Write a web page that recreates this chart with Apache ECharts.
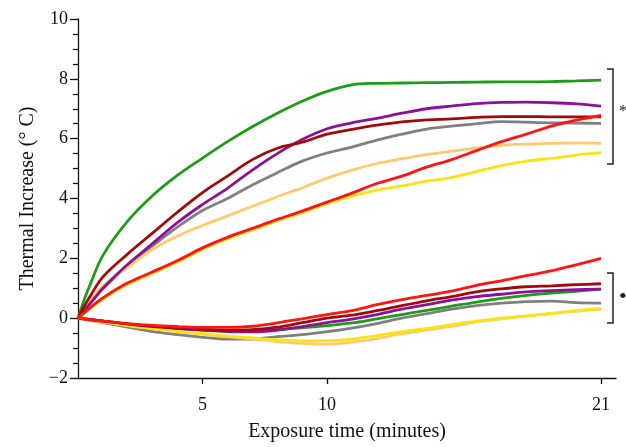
<!DOCTYPE html>
<html>
<head>
<meta charset="utf-8">
<script src="https://cdn.jsdelivr.net/npm/echarts@6/dist/echarts.min.js"></script>
<style>
  html, body { margin: 0; padding: 0; background: #fff; }
  #chart { width: 626px; height: 447px; }
</style>
</head>
<body>
<div id="chart"></div>
<script>
// Sampling times (minutes)
const timesHeating = [0, 0.25, 0.5, 1, 2, 3, 4, 5, 6, 7, 8, 9, 10, 11, 12, 13, 14, 15, 16, 17, 18, 19, 20, 21];
const timesControl = [0, 1, 2, 3, 4, 5, 6, 7, 8, 9, 10, 11, 12, 13, 14, 15, 16, 17, 18, 19, 20, 21];

// Upper group: thermal increase (°C) per sample
const greenHeat   = [0, 0.62, 1.15, 2.1, 3.25, 4.1, 4.78, 5.35, 5.9, 6.4, 6.85, 7.25, 7.58, 7.8, 7.85, 7.86, 7.87, 7.88, 7.89, 7.9, 7.9, 7.91, 7.93, 7.96];
const purpleHeat  = [0, 0.25, 0.5, 1.0, 1.8, 2.5, 3.2, 3.8, 4.34, 4.95, 5.5, 5.97, 6.33, 6.53, 6.68, 6.85, 7.0, 7.09, 7.17, 7.21, 7.22, 7.2, 7.16, 7.09];
const darkRedHeat = [0, 0.4, 0.75, 1.38, 2.15, 2.85, 3.55, 4.2, 4.75, 5.3, 5.68, 5.88, 6.15, 6.31, 6.45, 6.56, 6.63, 6.66, 6.71, 6.74, 6.74, 6.73, 6.73, 6.73];
const grayHeat    = [0, 0.25, 0.5, 0.98, 1.75, 2.42, 3.05, 3.6, 4.0, 4.45, 4.86, 5.25, 5.52, 5.72, 5.95, 6.15, 6.32, 6.42, 6.5, 6.57, 6.55, 6.53, 6.52, 6.51];
const orangeHeat  = [0, 0.32, 0.6, 1.08, 1.7, 2.3, 2.75, 3.1, 3.42, 3.74, 4.06, 4.36, 4.68, 4.95, 5.17, 5.33, 5.47, 5.58, 5.69, 5.78, 5.82, 5.84, 5.86, 5.84];
const yellowHeat  = [0, 0.16, 0.33, 0.64, 1.13, 1.5, 1.88, 2.3, 2.65, 2.95, 3.25, 3.53, 3.83, 4.08, 4.28, 4.42, 4.58, 4.7, 4.9, 5.1, 5.25, 5.34, 5.45, 5.53];
const redHeat     = [0, 0.18, 0.36, 0.68, 1.18, 1.55, 1.93, 2.35, 2.7, 3.0, 3.3, 3.58, 3.88, 4.18, 4.5, 4.75, 5.05, 5.3, 5.6, 5.9, 6.15, 6.42, 6.62, 6.78];

// Lower group
const greenCtrl   = [0, -0.1, -0.2, -0.28, -0.35, -0.4, -0.43, -0.42, -0.38, -0.32, -0.25, -0.16, -0.02, 0.12, 0.26, 0.4, 0.54, 0.66, 0.76, 0.84, 0.9, 0.97];
const purpleCtrl  = [0, -0.1, -0.2, -0.28, -0.35, -0.4, -0.45, -0.46, -0.4, -0.28, -0.15, -0.03, 0.12, 0.3, 0.45, 0.6, 0.72, 0.8, 0.88, 0.92, 0.95, 0.97];
const darkRedCtrl = [0, -0.1, -0.2, -0.28, -0.33, -0.37, -0.4, -0.38, -0.3, -0.15, 0.0, 0.1, 0.25, 0.42, 0.58, 0.72, 0.88, 0.98, 1.05, 1.08, 1.12, 1.15];
const grayCtrl    = [0, -0.15, -0.3, -0.45, -0.55, -0.64, -0.7, -0.7, -0.62, -0.55, -0.45, -0.33, -0.18, 0.0, 0.15, 0.3, 0.42, 0.5, 0.55, 0.57, 0.52, 0.5];
const orangeCtrl  = [0, -0.12, -0.25, -0.35, -0.45, -0.53, -0.62, -0.7, -0.78, -0.84, -0.87, -0.8, -0.68, -0.52, -0.4, -0.27, -0.12, -0.02, 0.07, 0.15, 0.23, 0.3];
const yellowCtrl  = [0, -0.12, -0.25, -0.35, -0.45, -0.52, -0.6, -0.66, -0.72, -0.76, -0.76, -0.7, -0.58, -0.45, -0.34, -0.22, -0.1, 0.0, 0.08, 0.16, 0.25, 0.33];
const redCtrl     = [0, -0.1, -0.18, -0.24, -0.28, -0.31, -0.31, -0.27, -0.16, -0.02, 0.12, 0.25, 0.45, 0.62, 0.76, 0.9, 1.1, 1.25, 1.42, 1.58, 1.78, 2.0];

// Axis ticks
const xTickValues = [5, 10, 21];

const colors = {
  green: '#1f9c17',
  purple: '#8c1196',
  darkRed: '#a10a0a',
  gray: '#808080',
  orange: '#ffca6e',
  yellow: '#f7e414',
  red: '#ff1414'
};

const FONT = '"Liberation Serif", "DejaVu Serif", serif';

function pairs(times, values) {
  return times.map((t, i) => [t, values[i]]);
}

function lineSeries(name, color, times, values) {
  return {
    name: name,
    type: 'line',
    data: pairs(times, values),
    showSymbol: false,
    smooth: 0.35,
    lineStyle: { color: color, width: 2.8 },
    itemStyle: { color: color },
    silent: true,
    animation: false
  };
}

const series = [
  lineSeries('green-ctrl', colors.green, timesControl, greenCtrl),
  lineSeries('purple-ctrl', colors.purple, timesControl, purpleCtrl),
  lineSeries('gray-ctrl', colors.gray, timesControl, grayCtrl),
  lineSeries('orange-ctrl', colors.orange, timesControl, orangeCtrl),
  lineSeries('yellow-ctrl', colors.yellow, timesControl, yellowCtrl),
  lineSeries('darkred-ctrl', colors.darkRed, timesControl, darkRedCtrl),
  lineSeries('red-ctrl', colors.red, timesControl, redCtrl),
  lineSeries('green-heat', colors.green, timesHeating, greenHeat),
  lineSeries('gray-heat', colors.gray, timesHeating, grayHeat),
  lineSeries('orange-heat', colors.orange, timesHeating, orangeHeat),
  lineSeries('purple-heat', colors.purple, timesHeating, purpleHeat),
  lineSeries('darkred-heat', colors.darkRed, timesHeating, darkRedHeat),
  lineSeries('yellow-heat', colors.yellow, timesHeating, yellowHeat),
  lineSeries('red-heat', colors.red, timesHeating, redHeat)
];

const chart = echarts.init(document.getElementById('chart'), null, { renderer: 'canvas' });

chart.setOption({
  backgroundColor: '#ffffff',
  animation: false,
  grid: { left: 78, right: 10, top: 19, bottom: 69, containLabel: false },
  xAxis: {
    type: 'value',
    min: 0,
    max: 21.6,
    name: 'Exposure time (minutes)',
    nameLocation: 'middle',
    nameGap: 44,
    nameTextStyle: { fontFamily: FONT, fontSize: 20, color: '#111' },
    axisLine: { show: true, onZero: false, lineStyle: { color: '#111', width: 1.3 } },
    axisTick: { show: true, length: 6, customValues: xTickValues, lineStyle: { color: '#111', width: 1.3 } },
    axisLabel: { customValues: xTickValues, margin: 18, fontFamily: FONT, fontSize: 18, color: '#111' },
    splitLine: { show: false }
  },
  yAxis: {
    type: 'value',
    min: -2,
    max: 10,
    interval: 2,
    name: 'Thermal Increase (° C)',
    nameLocation: 'middle',
    nameGap: 38,
    nameTextStyle: { fontFamily: FONT, fontSize: 20, color: '#111' },
    axisLine: { show: true, lineStyle: { color: '#111', width: 1.3 } },
    axisTick: { show: true, length: 8, lineStyle: { color: '#111', width: 1.3 } },
    minorTick: { show: true, splitNumber: 4, length: 5, lineStyle: { color: '#111', width: 1.2 } },
    axisLabel: {
      margin: 10,
      fontFamily: FONT,
      fontSize: 18,
      color: '#111',
      formatter: v => (v < 0 ? '\u2212' + Math.abs(v) : String(v))
    },
    splitLine: { show: false }
  },
  series: series,
  graphic: [
    // bracket grouping the upper curves
    {
      type: 'polyline',
      shape: { points: [[607, 69], [613, 69], [613, 164], [607, 164]] },
      style: { stroke: '#222', lineWidth: 1.5, fill: null }
    },
    { type: 'text', x: 619, y: 104, style: { text: '*', font: '16px ' + FONT, fill: '#222' } },
    // bracket grouping the lower curves
    {
      type: 'polyline',
      shape: { points: [[607, 273], [613, 273], [613, 323], [607, 323]] },
      style: { stroke: '#222', lineWidth: 1.5, fill: null }
    },
    { type: 'text', x: 619, y: 286, style: { text: '\u2022', font: '22px ' + FONT, fill: '#222' } }
  ]
});
</script>
</body>
</html>
